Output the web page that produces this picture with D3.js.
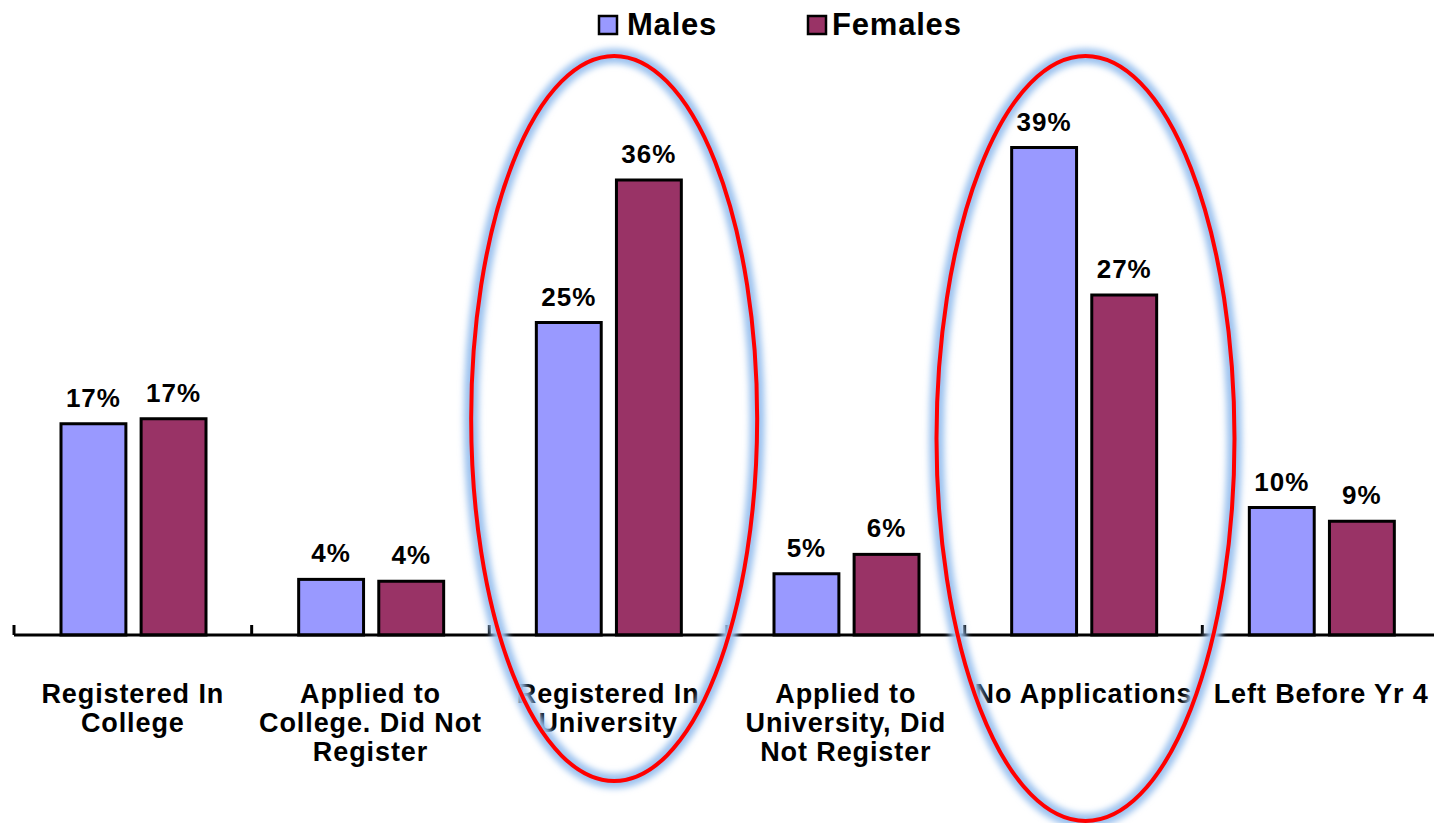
<!DOCTYPE html>
<html>
<head>
<meta charset="utf-8">
<script src="https://cdn.jsdelivr.net/npm/d3@7"></script>
<style>
	html, body { margin: 0; padding: 0; background: #fff; }
	svg text { font-family: "Liberation Sans", Arial, sans-serif; font-weight: bold; fill: #000; }
</style>
</head>
<body>
<div id="chart"></div>
<script>
// Outcomes by gender
///

const categories = [
	"Registered In College",
	"Applied to College. Did Not Register",
	"Registered In University",
	"Applied to University, Did Not Register",
	"No Applications",
	"Left Before Yr  4"
];
const categoryLines = [
	["Registered In", "College"],
	["Applied to", "College. Did Not", "Register"],
	["Registered In", "University"],
	["Applied to", "University, Did", "Not Register"],
	["No Applications"],
	["Left Before Yr  4"]
];
const series = ["Males", "Females"];
const males = [16.9, 4.45, 25.0, 4.9, 39.0, 10.2];
const females = [17.3, 4.3, 36.4, 6.45, 27.2, 9.1];
const highlighted = ["Registered In University", "No Applications"];

const colors = { Males: "#9999ff", Females: "#993366" };
const w = 1434, h = 823;
const baseY = 635;

let svg = d3.select("#chart").append("svg")
	.attr("width", w)
	.attr("height", h)
	.attr("viewBox", "0 0 " + w + " " + h);

const x0 = d3.scaleBand().domain(categories).range([14, 1440]).padding(0);
const x1 = d3.scaleBand().domain(series).range([47, 192]).paddingInner(0.19);
const y = d3.scaleLinear().domain([0, 40]).range([baseY, baseY - 500]);

let rows = categories.map(function(c, i) {
	return { cat: c, lines: categoryLines[i], values: [
		{ key: "Males", value: males[i] },
		{ key: "Females", value: females[i] }
	] };
});

// bars
let groups = svg.append("g").selectAll("g")
	.data(rows)
	.enter()
	.append("g")
	.attr("transform", function(d) { return "translate(" + x0(d.cat) + ",0)" });

groups.selectAll("rect")
	.data(function(d) { return d.values })
	.enter()
	.append("rect")
	.attr("x", function(d) { return x1(d.key) })
	.attr("y", function(d) { return y(d.value) })
	.attr("width", x1.bandwidth())
	.attr("height", function(d) { return baseY - y(d.value) })
	.attr("fill", function(d) { return colors[d.key] })
	.attr("stroke", "#000")
	.attr("stroke-width", 3);

// value labels
groups.selectAll("text.val")
	.data(function(d) { return d.values })
	.enter()
	.append("text")
	.attr("class", "val")
	.attr("x", function(d) { return x1(d.key) + x1.bandwidth() / 2 })
	.attr("y", function(d) { return y(d.value) - 17 })
	.attr("text-anchor", "middle")
	.style("font-size", "26px")
	.style("letter-spacing", "1px")
	.text(function(d) { return Math.round(d.value) + "%" });

// axis line and tick marks
svg.append("line")
	.attr("x1", 14).attr("x2", w)
	.attr("y1", baseY).attr("y2", baseY)
	.attr("stroke", "#000").attr("stroke-width", 3);

svg.append("g").selectAll("line")
	.data(categories)
	.enter()
	.append("line")
	.attr("x1", function(d) { return x0(d) }).attr("x2", function(d) { return x0(d) })
	.attr("y1", baseY).attr("y2", baseY - 10)
	.attr("stroke", "#000").attr("stroke-width", 3);

// category labels
groups.append("text")
	.attr("text-anchor", "middle")
	.style("font-size", "27px")
	.style("letter-spacing", "0.9px")
	.selectAll("tspan")
	.data(function(d) { return d.lines })
	.enter()
	.append("tspan")
	.attr("x", x0.bandwidth() / 2)
	.attr("y", function(d, i) { return 703 + i * 29 })
	.text(function(d) { return d });

// legend
let legend = svg.append("g").selectAll("g")
	.data(series)
	.enter()
	.append("g")
	.attr("transform", function(d, i) { return "translate(" + (i == 0 ? 599 : 808) + ",16)" });

legend.append("rect")
	.attr("width", 18).attr("height", 18)
	.attr("fill", function(d) { return colors[d] })
	.attr("stroke", "#000").attr("stroke-width", 2.5);

legend.append("text")
	.attr("x", function(d, i) { return i == 0 ? 28 : 24 })
	.attr("y", 19)
	.style("font-size", "31px")
	.style("letter-spacing", "0.8px")
	.text(function(d) { return d });

// highlight ellipses
let defs = svg.append("defs");
defs.append("filter").attr("id", "glow")
	.attr("x", "-20%").attr("y", "-20%").attr("width", "140%").attr("height", "140%")
	.append("feGaussianBlur").attr("stdDeviation", 3);

const rings = [
	{ cat: highlighted[0], dx: 6, top: 56, bottom: 781, rx: 143 },
	{ cat: highlighted[1], dx: 2, top: 56, bottom: 821, rx: 149 }
];

let ring = svg.append("g").selectAll("g")
	.data(rings)
	.enter()
	.append("g");

ring.append("ellipse")
	.attr("cx", function(d) { return x0(d.cat) + x0.bandwidth() / 2 + d.dx })
	.attr("cy", function(d) { return (d.top + d.bottom) / 2 })
	.attr("rx", function(d) { return d.rx })
	.attr("ry", function(d) { return (d.bottom - d.top) / 2 })
	.attr("fill", "none")
	.attr("stroke", "#9cc2ef")
	.attr("stroke-width", 15)
	.attr("filter", "url(#glow)");

ring.append("ellipse")
	.attr("cx", function(d) { return x0(d.cat) + x0.bandwidth() / 2 + d.dx })
	.attr("cy", function(d) { return (d.top + d.bottom) / 2 })
	.attr("rx", function(d) { return d.rx })
	.attr("ry", function(d) { return (d.bottom - d.top) / 2 })
	.attr("fill", "none")
	.attr("stroke", "#ff0000")
	.attr("stroke-width", 4);
</script>
</body>
</html>
